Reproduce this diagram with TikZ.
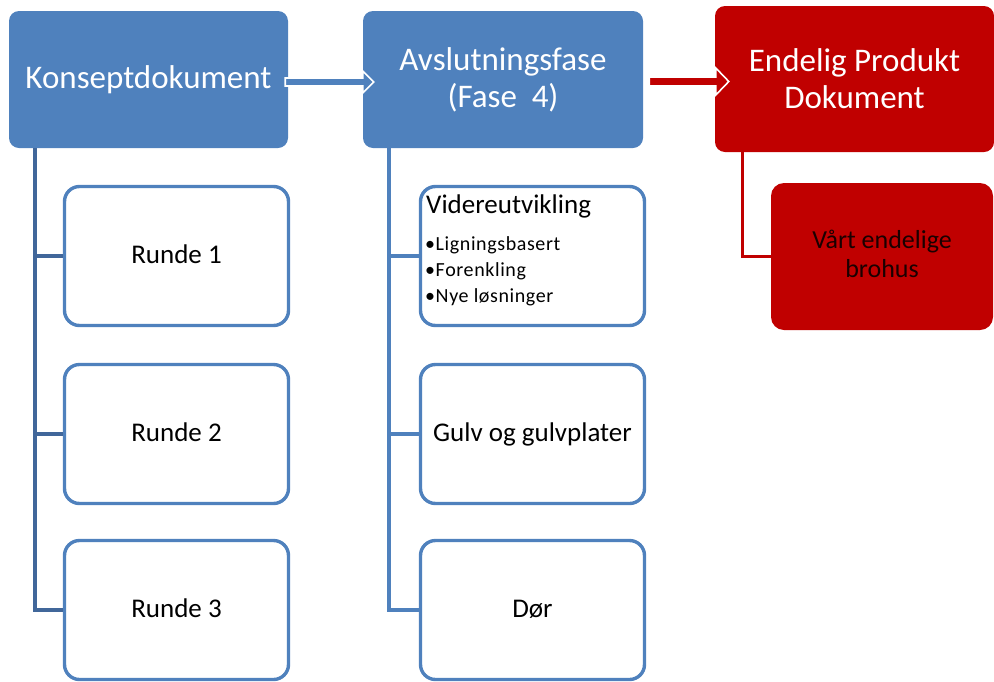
\documentclass[tikz,border=0pt]{standalone}
\usepackage{fontspec}
\setmainfont{Carlito}
\usetikzlibrary{calc}
\definecolor{boxblue}{HTML}{4F81BD}
\definecolor{spineblue}{HTML}{41679A}
\definecolor{prodred}{HTML}{C00000}
\definecolor{darktext}{HTML}{1A0000}
\begin{document}
\begin{tikzpicture}[x=1pt,y=-1pt,
  phase/.style={rounded corners=10pt, fill=boxblue, draw=none, text=white,
    align=center, inner sep=0pt, minimum width=279pt, minimum height=137pt,
    font=\fontsize{33}{37}\selectfont},
  final/.style={phase, fill=prodred, minimum height=146pt},
  item/.style={rounded corners=15pt, draw=boxblue, line width=3.4pt, fill=white,
    text=black, align=center, inner sep=0pt, minimum width=224pt, minimum height=139pt,
    text depth=3pt, font=\fontsize{27}{32}\selectfont},
  finalitem/.style={rounded corners=13pt, fill=prodred, text=darktext, align=center,
    inner sep=0pt, minimum width=222pt, minimum height=147pt, text depth=5pt,
    font=\fontsize{26}{29}\selectfont},
  heading/.style={anchor=base west, inner sep=0pt, font=\fontsize{27}{32}\selectfont},
  bullet/.style={anchor=base west, inner sep=0pt,
    font=\fontsize{20}{26}\selectfont\addfontfeatures{LetterSpace=3}},
  spine/.style={draw=spineblue, line width=4pt},
  spinelight/.style={draw=boxblue, line width=3.4pt},
  spinered/.style={draw=prodred, line width=3pt},
  blockarrow/.style={draw=white, line width=1.6pt, line join=miter}
]
\useasboundingbox (0,0) rectangle (994,681);

% phase boxes
\node[phase] (k) at (148.5,79.5) {Konseptdokument};
\node[phase, minimum width=280pt] (a) at (503,79.5) {Avslutningsfase\\(Fase\hspace{0.45em}4)};
\node[final] (p) at (854.5,79) {Endelig Produkt\\Dokument};

% items under each phase
\node[item] (r1) at (176.5,256) {Runde 1};
\node[item] (r2) at (176.5,434) {Runde 2};
\node[item] (r3) at (176.5,610) {Runde 3};

\node[item] (v) at (532.5,256) {};
\node[item] (g) at (532.5,434) {Gulv og gulvplater};
\node[item] (d) at (532.5,610) {Dør};

\node[finalitem] (b) at (882,256.5) {Vårt endelige\\brohus};

% contents of the first item in the second phase
\node[heading] (vh) at (426,213) {Videreutvikling};
\node[bullet] (v1) at (425,250.5) {•Ligningsbasert};
\node[bullet] (v2) at (425,276.5) {•Forenkling};
\node[bullet] (v3) at (425,302.5) {•Nye løsninger};

% tree connectors
\draw[spine] ([xshift=26]k.south west) |- (r1.west);
\draw[spine] ([xshift=26]k.south west) |- (r2.west);
\draw[spine] ([xshift=26]k.south west) |- (r3.west);

\draw[spinelight] ([xshift=26]a.south west) |- (v.west);
\draw[spinelight] ([xshift=26]a.south west) |- (g.west);
\draw[spinelight] ([xshift=26]a.south west) |- (d.west);

\draw[spinered] ([xshift=28]p.south west) |- (b.west);

% block arrows between phases
\draw[blockarrow, fill=boxblue]
  ([shift={(-3,-1.5)}]k.east) -- ([shift={(0,-1.5)}]a.west)
  -- ([shift={(0,-8.5)}]a.west) -- ([shift={(11,2.5)}]a.west)
  -- ([shift={(0,13.5)}]a.west) -- ([shift={(0,6.5)}]a.west)
  -- ([shift={(-3,6.5)}]k.east) -- cycle;
\draw[blockarrow, fill=prodred]
  ([shift={(6,-2.5)}]a.east) -- ([shift={(1,-2)}]p.west)
  -- ([shift={(1,-11)}]p.west) -- ([shift={(14,2.5)}]p.west)
  -- ([shift={(1,16)}]p.west) -- ([shift={(1,7)}]p.west)
  -- ([shift={(6,6.5)}]a.east) -- cycle;
\end{tikzpicture}
\end{document}
